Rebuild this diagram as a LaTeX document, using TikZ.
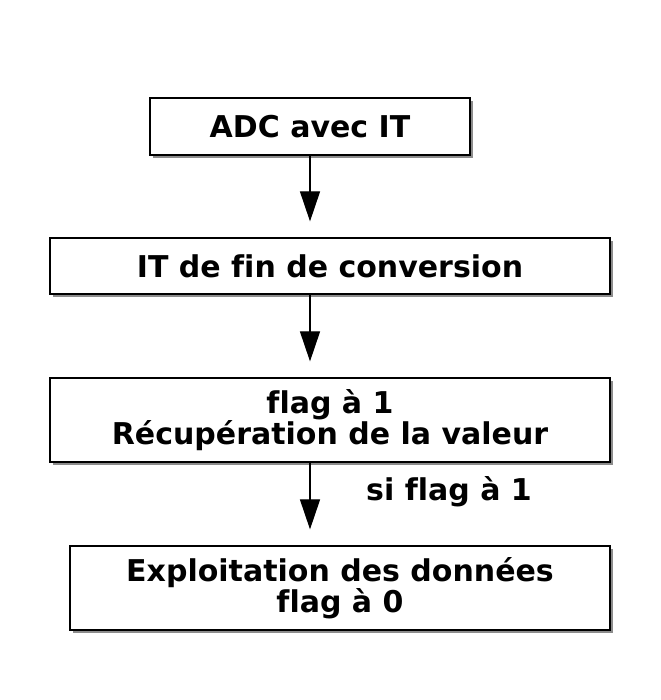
\documentclass[tikz,border=0pt]{standalone}
\usepackage{fontspec}
\setmainfont{DejaVu Sans}[Ligatures=NoCommon]
\usetikzlibrary{arrows.meta,positioning,calc,shadows}

\begin{document}
\begin{tikzpicture}[
    x=1pt, y=1pt,
    stepbox/.style={rectangle, draw=black, fill=white, line width=1.2pt, inner sep=0pt,
        align=center, font=\fontsize{30}{28}\selectfont\bfseries,
        drop shadow={shadow xshift=3pt, shadow yshift=-3pt, fill=black, opacity=0.45}},
    flow/.style={-{Triangle[length=30pt, width=20pt]}, line width=1.2pt, shorten >=16pt},
    cond/.style={font=\fontsize{30}{28}\selectfont\bfseries}
]
    \useasboundingbox (0,0) rectangle (660,700);

    % Boxes
    \node[stepbox, minimum width=320pt, minimum height=57pt] (adc) at (310,573.5) {ADC avec IT};
    \node[stepbox, minimum width=560pt, minimum height=56pt] (fin) at (330,434) {IT de fin de conversion};
    \node[stepbox, minimum width=560pt, minimum height=84pt] (recup) at (330,280) {flag à 1\\ Récupération de la valeur};
    \node[stepbox, minimum width=540pt, minimum height=84pt] (exploit) at (340,112) {Exploitation des données\\ flag à 0};

    % Arrows
    \draw[flow] (adc.south) -- (adc.south |- fin.north);
    \draw[flow] (fin.south -| adc.south) -- (recup.north -| adc.south);
    \draw[flow] (recup.south -| adc.south) -- (exploit.north -| adc.south);

    % Label
    \node[cond] (si) at (449,208) {si flag à 1};
\end{tikzpicture}
\end{document}
